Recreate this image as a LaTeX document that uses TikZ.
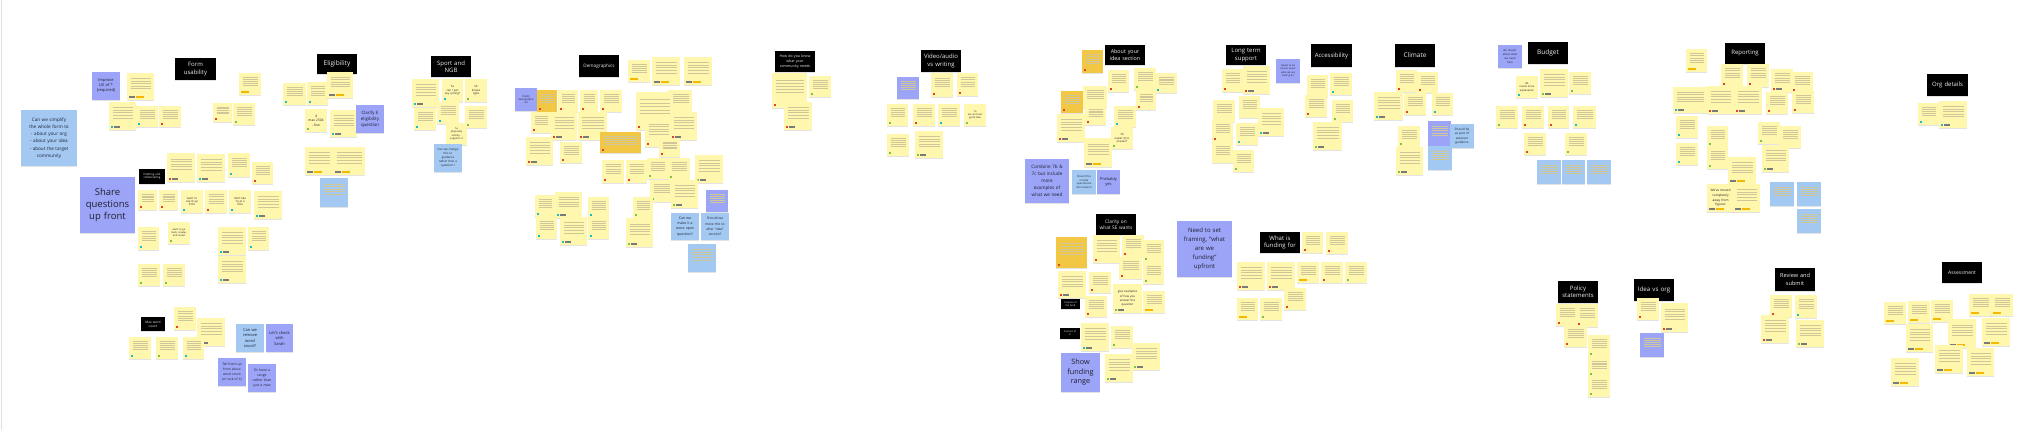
\documentclass[tikz,border=0pt]{standalone}
\usepackage{fontspec}
\setmainfont{Open Sans}
\usetikzlibrary{calc,shadows}
\definecolor{yel}{HTML}{FFF7AD}
\definecolor{gold}{HTML}{F2C744}
\definecolor{blu}{HTML}{A3C8F2}
\definecolor{pur}{HTML}{9BA4F7}
\definecolor{txt}{HTML}{202030}
\definecolor{hdrtxt}{HTML}{EEEEEE}
\definecolor{linec}{HTML}{CFC79A}
\definecolor{tred}{HTML}{E3412E}
\definecolor{tteal}{HTML}{1DBBC9}
\definecolor{tgreen}{HTML}{77C646}
\definecolor{tgray}{HTML}{7A7A7A}
\definecolor{torange}{HTML}{F5B800}
\newcommand\fs[2]{\fontsize{#1}{#2}\selectfont}
\newcommand\nt[7]{%
 \pgfmathsetmacro\ntw{#4-#2}\pgfmathsetmacro\nth{#5-#3}%
 \pgfmathsetmacro\ntx{(#2+#4)/2}\pgfmathsetmacro\nty{(#3+#5)/2}%
 \pgfmathsetmacro\nttw{max(#4-#2-2.5,1)}%
 \node[#6, minimum width=\ntw pt, minimum height=\nth pt, text width=\nttw pt] (#1) at (\ntx,\nty) {#7};}
\newcommand\tg[2]{\fill[#2] ([shift={(2,-2)}]#1.south west) rectangle ++(2.6,-2.6);}
\newcommand\tgg[2]{\tg{#1}{#2}\fill[tgray] ([shift={(5.2,-2)}]#1.south west) rectangle ++(6,-2.6);}
\newcommand\tgo[1]{\fill[tgray] ([shift={(2,-2)}]#1.south west) rectangle ++(6,-2.6);\fill[torange] ([shift={(8.8,-2)}]#1.south west) rectangle ++(8,-2.6);}
\newcommand\tob[1]{\fill[torange] ([shift={(2,-2)}]#1.south west) rectangle ++(8,-2.6);}
\tikzset{
 base/.style={rectangle, inner xsep=1.25pt, inner ysep=1pt, align=center, text=txt,
   drop shadow={shadow xshift=0.4pt, shadow yshift=-1.3pt, opacity=0.22}},
 lines/.style={path picture={\foreach \k in {0.2,0.29,...,0.62}{\draw[linec, line width=0.35pt]
   ($(path picture bounding box.north west)!\k!(path picture bounding box.south west)+(3.5,0)$) --
   ($(path picture bounding box.north east)!\k!(path picture bounding box.south east)+(-3.5,0)$);}}},
 ylw/.style={base, fill=yel, lines},
 ytx/.style={base, fill=yel, font=\fs{2.8}{3.4}},
 gld/.style={base, fill=gold, lines},
 blw/.style={base, fill=blu, lines},
 btx/.style={base, fill=blu},
 plw/.style={base, fill=pur, lines},
 ptx/.style={base, fill=pur},
 hdr/.style={base, fill=black, text=hdrtxt, font=\fs{6}{7.4}},
}
\begin{document}
\begin{tikzpicture}[x=1pt,y=-1pt]
\useasboundingbox (0,0) rectangle (2042,430);
\fill[white] (0,0) rectangle (2042,430);
\draw[black!12, line width=0.6pt] (1,0) -- (1,430);
% ---------------- Form usability
\nt{hfu}{175}{58}{216}{80}{hdr}{Form\\usability}
\nt{pimp}{92}{72}{120}{100}{ptx,font=\fs{4}{5}}{Improve\\UX of *\\(required)}
\nt{bsimp}{21}{110}{77}{166}{btx,font=\fs{4.6}{7.2}}{Can we simplify\\the whole form to\\- about your org\\- about your idea\\- about the target\\community}
\nt{pshare}{80}{177}{135}{233}{ptx,font=\fs{9.5}{12}}{Share\\questions\\up front}
\nt{hdraft}{139}{169}{165}{184}{hdr,font=\fs{2.8}{3.5}}{Drafting and\\collaborating}
\nt{y1}{127}{73}{154}{100}{ylw}{}\tgo{y1}
\nt{y2}{109}{102}{136}{130}{ylw}{}\tgg{y2}{tteal}
\nt{y3}{136}{106}{158}{127}{ylw}{}\tg{y3}{tteal}
\nt{y4}{159}{106}{181}{127}{ylw}{}\tg{y4}{tred}
\nt{y5}{239}{73}{261}{95}{ylw}{}\tob{y5}
\nt{y6}{213}{103}{232}{122}{ylw}{}\tg{y6}{tred}
\nt{y7}{233}{103}{255}{125}{ylw}{}\tg{y7}{tgreen}
\nt{y8}{167}{153}{195}{182}{ylw}{}\tgg{y8}{tred}
\nt{y9}{197}{154}{225}{182}{ylw}{}\tgg{y9}{tteal}
\nt{y10}{228}{153}{250}{177}{ylw}{}\tg{y10}{tteal}
\nt{y11}{252}{162}{273}{184}{ylw}{}\tg{y11}{tred}
\nt{y12}{138}{190}{157}{210}{ylw}{}\tg{y12}{tred}
\nt{y13}{159}{190}{178}{210}{ylw}{}\tg{y13}{tred}
\nt{y14}{181}{190}{203}{213}{ytx}{want to\\see Q up\\front}\tg{y14}{tteal}
\nt{y15}{205}{190}{227}{213}{ylw}{}\tg{y15}{tred}
\nt{y16}{229}{190}{251}{213}{ytx}{don't like\\1q at a\\time}\tg{y16}{tteal}
\nt{y17}{254}{191}{282}{219}{ylw}{}\tgg{y17}{tteal}
\nt{y18}{138}{227}{159}{250}{ylw}{}\tg{y18}{tteal}
\nt{y19}{168}{222}{190}{244}{ytx,font=\fs{2.5}{3.1}}{want to go\\back, review,\\and revisit}\tg{y19}{tgreen}
\nt{y20}{218}{227}{246}{255}{ylw}{}\tgg{y20}{tteal}
\nt{y21}{248}{227}{269}{250}{ylw}{}\tg{y21}{tteal}
\nt{y22}{218}{256}{246}{283}{ylw}{}\tgg{y22}{tteal}
\nt{y23}{138}{264}{160}{286}{ylw}{}\tg{y23}{tgreen}
\nt{y24}{163}{264}{185}{286}{ylw}{}\tg{y24}{tgreen}
\nt{hmax}{141}{317}{165}{331}{hdr,font=\fs{3.2}{4}}{Max word\\count}
\nt{y25}{174}{307}{196}{330}{ylw}{}\tg{y25}{tred}
\nt{y26}{197}{318}{225}{346}{ylw}{}\tgg{y26}{tgreen}
\nt{y27}{129}{337}{151}{359}{ylw}{}\tg{y27}{tteal}
\nt{y28}{156}{337}{178}{359}{ylw}{}\tg{y28}{tgreen}
\nt{y29}{183}{337}{204}{359}{ylw}{}\tg{y29}{tteal}
\nt{bremove}{236}{324}{264}{352}{btx,font=\fs{4}{5.5}}{Can we\\remove\\word\\count?}
\nt{pcheck}{266}{324}{293}{352}{ptx,font=\fs{4}{5.5}}{Let's check\\with\\Sarah}
\nt{ptell}{218}{358}{246}{386}{ptx,font=\fs{3.3}{5}}{Tell them up\\front about\\word count\\(or lack of it)}
\nt{prange}{248}{364}{276}{392}{ptx,font=\fs{3.5}{5.2}}{Or have a\\range\\rather than\\just a max}
% ---------------- Eligibility
\nt{hel}{317}{54}{357}{74}{hdr,font=\fs{6.5}{8}}{Eligibility}
\nt{e1}{283}{83}{306}{105}{ylw}{}\tg{e1}{tteal}
\nt{e2}{307}{82}{328}{105}{ylw}{}\tg{e2}{tteal}
\nt{e3}{327}{72}{353}{98}{ylw}{}\tgo{e3}
\nt{e4}{305}{109}{327}{132}{ytx,font=\fs{3.3}{4.6}}{4\\max 250k\\- fine}\tg{e4}{tgreen}
\nt{e5}{330}{110}{357}{137}{ylw}{}\tgg{e5}{tteal}
\nt{e6}{305}{147}{333}{175}{ylw}{}\tgo{e6}
\nt{e7}{333}{147}{365}{175}{ylw}{}\tgo{e7}
\nt{bget}{320}{178}{348}{207}{blw}{}
\nt{pclar}{356}{105}{384}{133}{ptx,font=\fs{4.4}{6}}{Clarify E\\eligibility\\question}
% ---------------- Sport and NGB
\nt{hsp}{431}{56}{471}{77}{hdr}{Sport and\\NGB}
\nt{s1}{412}{79}{439}{107}{ylw}{}\tgg{s1}{tteal}
\nt{s2}{442}{79}{463}{102}{ytx}{5a\\can I just\\say cycling?}\tg{s2}{tteal}
\nt{s3}{465}{79}{487}{102}{ytx}{5b\\knows\\ngbs}\tg{s3}{tgreen}
\nt{s4}{414}{108}{436}{130}{ylw}{}\tg{s4}{tteal}
\nt{s5}{437}{102}{459}{124}{ylw}{}\tg{s5}{tteal}
\nt{s6}{465}{106}{487}{128}{ylw}{}\tg{s6}{tgreen}
\nt{s7}{446}{123}{467}{145}{ytx,font=\fs{2.5}{3.2}}{5a\\physically\\activity -\\supports it}
\nt{bcan}{434}{144}{462}{172}{btx,font=\fs{2.9}{4}}{Can we change\\this to\\guidance\\rather than a\\question ?}
% ---------------- Demographics
\nt{hdem}{579}{55}{619}{77}{hdr,font=\fs{4.6}{6}}{Demographics}
\nt{pdem}{515}{88}{537}{111}{ptx,font=\fs{2.5}{3.3}}{Clarify\\demographic\\list}
\nt{g1}{537}{90}{557}{112}{gld}{}\tg{g1}{tred}
\nt{d1}{558}{90}{578}{112}{ylw}{}\tg{d1}{tred}
\nt{d2}{580}{90}{598}{112}{ylw}{}\tg{d2}{tred}
\nt{d3}{600}{90}{622}{112}{ylw}{}\tg{d3}{tred}
\nt{d4}{628}{60}{650}{82}{ylw}{}\tob{d4}
\nt{d5}{652}{57}{680}{85}{ylw}{}\tgo{d5}
\nt{d14}{668}{90}{692}{112}{ylw}{}
\nt{d6}{636}{92}{673}{130}{ylw}{}\tg{d6}{tred}
\nt{d7}{531}{112}{551}{133}{ylw}{}\tg{d7}{tred}
\nt{d8}{551}{112}{577}{140}{ylw}{}\tgg{d8}{tred}
\nt{d9}{578}{112}{607}{140}{ylw}{}\tgg{d9}{tred}
\nt{d15}{670}{112}{697}{140}{ylw}{}\tgg{d15}{tred}
\nt{d12}{645}{118}{672}{147}{ylw}{}\tg{d12}{tred}
\nt{d13}{659}{138}{680}{157}{ylw}{}\tg{d13}{tred}
\nt{g2}{600}{132}{641}{153}{gld}{}\tg{g2}{tred}
\nt{d10}{526}{137}{553}{165}{ylw}{}\tgg{d10}{tred}
\nt{d11}{560}{142}{582}{163}{ylw}{}\tg{d11}{tred}
\nt{d16}{602}{160}{624}{183}{ylw}{}\tg{d16}{tred}
\nt{d17}{626}{160}{647}{183}{ylw}{}\tg{d17}{tred}
\nt{d18}{647}{158}{668}{179}{ylw}{}\tg{d18}{tgreen}
\nt{d19}{668}{158}{690}{180}{ylw}{}\tg{d19}{tgreen}
\nt{d22}{695}{155}{723}{183}{ylw}{}\tgg{d22}{tgreen}
\nt{d20}{650}{180}{673}{202}{ylw}{}\tg{d20}{tgreen}
\nt{d21}{671}{180}{698}{208}{ylw}{}\tgg{d21}{tgreen}
\nt{d23}{535}{195}{555}{217}{ylw}{}\tg{d23}{tteal}
\nt{d24}{555}{192}{582}{218}{ylw}{}\tgg{d24}{tteal}
\nt{d25}{588}{197}{609}{218}{ylw}{}\tg{d25}{tteal}
\nt{d26}{633}{197}{653}{218}{ylw}{}\tg{d26}{tgreen}
\nt{d27}{536}{217}{557}{239}{ylw}{}\tg{d27}{tteal}
\nt{d28}{560}{217}{587}{245}{ylw}{}\tgg{d28}{tteal}
\nt{d29}{588}{217}{609}{239}{ylw}{}\tg{d29}{tteal}
\nt{d30}{626}{218}{653}{247}{ylw}{}\tgg{d30}{tgreen}
\nt{d31}{684}{57}{712}{85}{ylw}{}\tgo{d31}
\nt{pwho}{706}{190}{728}{212}{plw}{}
\nt{bopen}{671}{213}{699}{240}{btx,font=\fs{3.5}{5.2}}{Can we\\make it a\\more open\\question?}
\nt{bmove}{701}{213}{729}{240}{btx,font=\fs{3.3}{5.2}}{Should we\\move this to\\after ``idea''\\section?}
\nt{bsm}{688}{244}{716}{272}{blw}{}
% ---------------- How do you know
\nt{hhow}{775}{51}{815}{72}{hdr,font=\fs{3.6}{4.6}}{How do you know\\what your\\community needs}
\nt{k1}{772}{73}{807}{108}{ylw}{}\tg{k1}{tred}
\nt{k2}{809}{76}{831}{97}{ylw}{}\tg{k2}{tgreen}
\nt{k3}{784}{102}{812}{130}{ylw}{}\tgg{k3}{tred}
% ---------------- Video/audio
\nt{hvid}{921}{50}{961}{72}{hdr,font=\fs{6}{7.6}}{Video/audio\\vs writing}
\nt{pvid}{897}{77}{919}{99}{plw}{}
\nt{v1}{931}{73}{953}{97}{ylw}{}\tg{v1}{tred}
\nt{v2}{957}{73}{978}{96}{ylw}{}\tg{v2}{tred}
\nt{v3}{887}{104}{908}{126}{ylw}{}\tg{v3}{tgreen}
\nt{v4}{913}{104}{935}{126}{ylw}{}\tg{v4}{tred}
\nt{v5}{938}{104}{960}{126}{ylw}{}\tg{v5}{tteal}
\nt{v6}{964}{104}{986}{126}{ytx,font=\fs{2.5}{3.4}}{7a\\aio and text\\good idea}\tg{v6}{tgreen}
\nt{v7}{887}{134}{909}{156}{ylw}{}\tg{v7}{tgreen}
\nt{v8}{915}{131}{943}{158}{ylw}{}\tgg{v8}{tgreen}
% ---------------- About your idea
\nt{habout}{1105}{45}{1145}{65}{hdr,font=\fs{5.4}{7}}{About your\\idea section}
\nt{ga1}{1082}{50}{1103}{73}{gld}{}\tg{ga1}{tred}
\nt{a1}{1108}{70}{1129}{92}{ylw}{}\tg{a1}{tred}
\nt{a2}{1134}{68}{1156}{90}{ylw}{}\tg{a2}{tgreen}
\nt{a3}{1155}{73}{1177}{93}{ylw}{}\tg{a3}{tteal}
\nt{a4}{1083}{86}{1107}{108}{ylw}{}
\nt{ga2}{1061}{91}{1083}{113}{gld}{}\tg{ga2}{tred}
\nt{a5}{1085}{105}{1106}{125}{ylw}{}\tg{a5}{tred}
\nt{a6}{1136}{90}{1156}{110}{ylw}{}\tg{a6}{tred}
\nt{a7}{1114}{106}{1136}{127}{ylw}{}\tg{a7}{tteal}
\nt{a8}{1057}{114}{1085}{142}{ylw}{}\tgg{a8}{tred}
\nt{a9}{1111}{127}{1133}{149}{ytx}{7b\\easier Q to\\answer?}\tg{a9}{tgreen}
\nt{a10}{1084}{138}{1112}{167}{ylw}{}\tgo{a10}
\nt{pcomb}{1025}{159}{1069}{203}{ptx,font=\fs{4.6}{7}}{Combine 7b \&\\7c but include\\more\\examples of\\what we need}
\nt{bquant}{1072}{170}{1096}{194}{btx,font=\fs{2.6}{3.6}}{Should this\\include\\quantitative\\information?}
\nt{pprob}{1097}{170}{1120}{194}{ptx,font=\fs{4}{5.5}}{Probably\\yes}
% ---------------- Long term support
\nt{hlong}{1226}{45}{1266}{65}{hdr}{Long term\\support}
\nt{plong}{1276}{59}{1300}{83}{ptx,font=\fs{2.4}{3.4}}{Needs to be\\clearer about\\what we are\\looking for}
\nt{l1}{1222}{69}{1243}{92}{ylw}{}\tg{l1}{tred}
\nt{l2}{1243}{66}{1270}{94}{ylw}{}\tgg{l2}{tred}
\nt{l3}{1213}{100}{1235}{122}{ylw}{}
\nt{l4}{1239}{96}{1260}{118}{ylw}{}
\nt{l5}{1258}{108}{1284}{136}{ylw}{}\tgg{l5}{tteal}
\nt{l6}{1212}{120}{1233}{142}{ylw}{}\tg{l6}{tred}
\nt{l7}{1236}{123}{1258}{145}{ylw}{}\tg{l7}{tteal}
\nt{l8}{1212}{142}{1233}{163}{ylw}{}
\nt{l9}{1233}{150}{1254}{172}{ylw}{}\tg{l9}{tgreen}
% ---------------- Accessibility
\nt{hacc}{1311}{44}{1352}{67}{hdr}{Accessibility}
\nt{c1}{1307}{75}{1328}{97}{ylw}{}
\nt{c2}{1330}{73}{1352}{95}{ylw}{}\tg{c2}{tteal}
\nt{c3}{1305}{95}{1327}{117}{ylw}{}\tg{c3}{tred}
\nt{c4}{1332}{100}{1353}{122}{ylw}{}\tg{c4}{tgreen}
\nt{c5}{1313}{122}{1342}{150}{ylw}{}\tgg{c5}{tgreen}
% ---------------- Clarity on what SE wants
\nt{hclar}{1096}{214}{1136}{235}{hdr,font=\fs{4.8}{6.4}}{Clarity on\\what SE wants}
\nt{gc1}{1056}{237}{1087}{268}{gld}{}\tg{gc1}{tred}
\nt{cl1}{1093}{235}{1120}{263}{ylw}{}\tg{cl1}{tred}
\nt{cl2}{1122}{235}{1144}{257}{ylw}{}\tg{cl2}{tred}
\nt{cl3}{1143}{240}{1164}{262}{ylw}{}\tg{cl3}{tgreen}
\nt{cl4}{1119}{257}{1142}{279}{ylw}{}\tg{cl4}{tred}
\nt{cl5}{1143}{262}{1164}{284}{ylw}{}\tg{cl5}{tgreen}
\nt{cl6}{1058}{271}{1086}{298}{ylw}{}\tgg{cl6}{tred}
\nt{cl7}{1089}{272}{1111}{293}{ylw}{}\tg{cl7}{tred}
\nt{cl8}{1085}{296}{1107}{317}{ylw}{}\tg{cl8}{tred}
\nt{cl9}{1113}{284}{1142}{313}{ytx,font=\fs{2.9}{4.2}}{give examples\\of how you\\answer the\\question}\tgg{cl9}{tgreen}
\nt{cl10}{1143}{291}{1165}{313}{ylw}{}\tob{cl10}
\nt{hpurp}{1061}{299}{1080}{309}{hdr,font=\fs{2.4}{3}}{Purpose of\\the fund}
\nt{hamt}{1060}{328}{1080}{339}{hdr,font=\fs{2.4}{3}}{Amount of\\£}
\nt{cl11}{1081}{323}{1109}{351}{ylw}{}\tgg{cl11}{tteal}
\nt{cl12}{1111}{326}{1133}{348}{ylw}{}\tg{cl12}{tgreen}
\nt{cl13}{1132}{343}{1160}{370}{ylw}{}\tgg{cl13}{tgreen}
\nt{cl14}{1105}{354}{1133}{382}{ylw}{}\tgg{cl14}{tgreen}
\nt{pshow}{1061}{353}{1100}{392}{ptx,font=\fs{7.3}{9.6}}{Show\\funding\\range}
\nt{pneed}{1177}{221}{1232}{277}{ptx,font=\fs{6}{9.2}}{Need to set\\framing, ``what\\are we\\funding''\\upfront}
% ---------------- What is funding for
\nt{hwhat}{1260}{232}{1300}{253}{hdr}{What is\\funding for}
\nt{w1}{1302}{232}{1323}{253}{ylw}{}\tg{w1}{tred}
\nt{w2}{1326}{232}{1348}{254}{ylw}{}\tg{w2}{tred}
\nt{w3}{1237}{262}{1265}{290}{ylw}{}\tgg{w3}{tred}
\nt{w4}{1267}{262}{1295}{290}{ylw}{}\tgg{w4}{tred}
\nt{w5}{1297}{262}{1319}{283}{ylw}{}\tob{w5}
\nt{w6}{1321}{262}{1343}{283}{ylw}{}\tg{w6}{tred}
\nt{w7}{1345}{262}{1367}{283}{ylw}{}\tg{w7}{tgreen}
\nt{w10}{1284}{288}{1306}{310}{ylw}{}\tg{w10}{tred}
\nt{w8}{1237}{298}{1258}{320}{ylw}{}\tob{w8}
\nt{w9}{1260}{298}{1282}{320}{ylw}{}\tg{w9}{tgreen}
% ---------------- Climate
\nt{hcli}{1395}{44}{1435}{67}{hdr,font=\fs{6.5}{8}}{Climate}
\nt{m1}{1396}{70}{1417}{92}{ylw}{}\tg{m1}{tred}
\nt{m2}{1417}{72}{1438}{93}{ylw}{}\tg{m2}{tred}
\nt{m3}{1374}{92}{1403}{120}{ylw}{}\tgg{m3}{tteal}
\nt{m4}{1404}{93}{1426}{115}{ylw}{}\tg{m4}{tred}
\nt{m5}{1432}{93}{1453}{115}{ylw}{}\tg{m5}{tteal}
\nt{m6}{1398}{126}{1420}{147}{ylw}{}\tg{m6}{tgreen}
\nt{m7}{1396}{147}{1423}{175}{ylw}{}\tgg{m7}{tgreen}
\nt{pcli}{1428}{121}{1451}{146}{plw}{}
\nt{bcli}{1450}{124}{1474}{148}{btx,font=\fs{3.1}{4.4}}{Should be\\as part of\\assessor\\guidance}
\nt{bcli2}{1428}{146}{1452}{170}{blw}{}
% ---------------- Budget
\nt{pbud}{1498}{45}{1522}{68}{ptx,font=\fs{2.7}{3.8}}{Be clearer\\about what\\we need\\here}
\nt{hbud}{1528}{42}{1568}{64}{hdr,font=\fs{6.5}{8}}{Budget}
\nt{b1}{1516}{76}{1538}{98}{ytx,font=\fs{2.6}{3.6}}{8b\\needs more\\explanation}\tg{b1}{tteal}
\nt{b2}{1540}{69}{1568}{97}{ylw}{}\tgg{b2}{tgreen}
\nt{b3}{1569}{72}{1591}{94}{ylw}{}\tg{b3}{tgreen}
\nt{b4}{1496}{106}{1518}{128}{ylw}{}\tg{b4}{tgreen}
\nt{b5}{1522}{106}{1544}{128}{ylw}{}\tg{b5}{tred}
\nt{b6}{1548}{106}{1569}{128}{ylw}{}\tg{b6}{tred}
\nt{b7}{1573}{106}{1596}{128}{ylw}{}\tg{b7}{tteal}
\nt{b8}{1524}{133}{1546}{155}{ylw}{}\tg{b8}{tred}
\nt{b9}{1565}{133}{1587}{155}{ylw}{}\tg{b9}{tgreen}
\nt{bb1}{1537}{160}{1561}{184}{blw}{}
\nt{bb2}{1562}{160}{1585}{184}{blw}{}
\nt{bb3}{1587}{160}{1611}{184}{blw}{}
\nt{r0}{1686}{49}{1707}{72}{ylw}{}\tob{r0}
\nt{r00}{1673}{87}{1707}{113}{ylw}{}\tgg{r00}{tteal}
\nt{r01}{1676}{116}{1698}{138}{ylw}{}\tg{r01}{tteal}
\nt{r02}{1676}{143}{1698}{165}{ylw}{}\tg{r02}{tteal}
% ---------------- Reporting
\nt{hrep}{1725}{43}{1765}{64}{hdr}{Reporting}
\nt{rp1}{1721}{64}{1743}{87}{ylw}{}\tg{rp1}{tred}
\nt{rp2}{1747}{64}{1769}{87}{ylw}{}\tg{rp2}{tred}
\nt{rp3}{1771}{69}{1793}{92}{ylw}{}\tgg{rp3}{tred}
\nt{rp4}{1791}{72}{1813}{93}{ylw}{}\tg{rp4}{tred}
\nt{rp5}{1707}{86}{1734}{114}{ylw}{}\tgg{rp5}{tred}
\nt{rp6}{1734}{86}{1762}{114}{ylw}{}\tgg{rp6}{tred}
\nt{rp7}{1766}{92}{1788}{114}{ylw}{}\tg{rp7}{tred}
\nt{rp8}{1792}{91}{1814}{113}{ylw}{}\tg{rp8}{tred}
\nt{rp9}{1707}{126}{1728}{147}{ylw}{}\tg{rp9}{tgreen}
\nt{rp10}{1707}{147}{1728}{169}{ylw}{}\tg{rp10}{tgreen}
\nt{rp11}{1758}{122}{1780}{144}{ylw}{}\tg{rp11}{tgreen}
\nt{rp12}{1779}{126}{1801}{148}{ylw}{}
\nt{rp13}{1762}{145}{1789}{172}{ylw}{}\tgg{rp13}{tgreen}
\nt{rp14}{1728}{157}{1756}{184}{ylw}{}\tgo{rp14}
\nt{rp15}{1707}{184}{1734}{212}{ytx,font=\fs{3.2}{4.6}}{We've moved\\completely\\away from\\figures}\tgo{rp15}
\nt{rp16}{1733}{184}{1760}{212}{ylw}{}\tgo{rp16}
\nt{br1}{1770}{182}{1794}{206}{blw}{}
\nt{br2}{1797}{182}{1821}{206}{blw}{}
\nt{br3}{1797}{209}{1821}{233}{blw}{}
% ---------------- Org details
\nt{horg}{1927}{74}{1968}{96}{hdr}{Org details}
\nt{o1}{1918}{103}{1939}{125}{ylw}{}\tg{o1}{tteal}
\nt{o2}{1939}{101}{1967}{128}{ylw}{}\tgg{o2}{tteal}
% ---------------- Policy statements
\nt{hpol}{1558}{281}{1598}{303}{hdr}{Policy\\statements}
\nt{po1}{1556}{304}{1578}{326}{ylw}{}\tg{po1}{tred}
\nt{po2}{1576}{304}{1598}{327}{ylw}{}\tg{po2}{tred}
\nt{po3}{1564}{325}{1587}{347}{ylw}{}\tg{po3}{tred}
\nt{po4}{1588}{335}{1610}{357}{ylw}{}\tg{po4}{tgreen}
\nt{po5}{1588}{357}{1610}{377}{ylw}{}\tg{po5}{tgreen}
\nt{po6}{1588}{376}{1610}{397}{ylw}{}\tg{po6}{tgreen}
% ---------------- Idea vs org
\nt{hidea}{1634}{279}{1674}{301}{hdr,font=\fs{6.2}{7.6}}{Idea vs org}
\nt{i1}{1637}{298}{1659}{320}{ylw}{}\tg{i1}{tred}
\nt{i2}{1661}{303}{1688}{332}{ylw}{}\tgg{i2}{tred}
\nt{pidea}{1640}{333}{1664}{357}{plw}{}
% ---------------- Review and submit
\nt{hrev}{1775}{268}{1815}{291}{hdr,font=\fs{5.6}{7.4}}{Review and\\submit}
\nt{rv1}{1770}{295}{1792}{317}{ylw}{}\tg{rv1}{tred}
\nt{rv2}{1795}{295}{1817}{318}{ylw}{}\tg{rv2}{tteal}
\nt{rv3}{1761}{315}{1789}{343}{ylw}{}\tgg{rv3}{tred}
\nt{rv4}{1796}{320}{1824}{347}{ylw}{}\tgg{rv4}{tgreen}
% ---------------- Assessment
\nt{hass}{1942}{262}{1982}{283}{hdr,font=\fs{5}{6.4}}{Assessment}
\nt{as1}{1884}{302}{1906}{324}{ylw}{}\tob{as1}
\nt{as2}{1908}{301}{1930}{323}{ylw}{}\tob{as2}
\nt{as3}{1931}{300}{1953}{322}{ylw}{}\tob{as3}
\nt{as4}{1969}{294}{1992}{316}{ylw}{}\tob{as4}
\nt{as5}{1991}{294}{2013}{316}{ylw}{}\tob{as5}
\nt{as6}{1906}{324}{1933}{352}{ylw}{}\tgo{as6}
\nt{as7}{1948}{319}{1976}{348}{ylw}{}\tgo{as7}
\nt{as8}{1982}{318}{2010}{346}{ylw}{}\tgo{as8}
\nt{as9}{1891}{358}{1919}{386}{ylw}{}\tgo{as9}
\nt{as10}{1935}{345}{1963}{373}{ylw}{}\tgo{as10}
\nt{as11}{1967}{348}{1994}{376}{ylw}{}\tgo{as11}
\end{tikzpicture}
\end{document}
